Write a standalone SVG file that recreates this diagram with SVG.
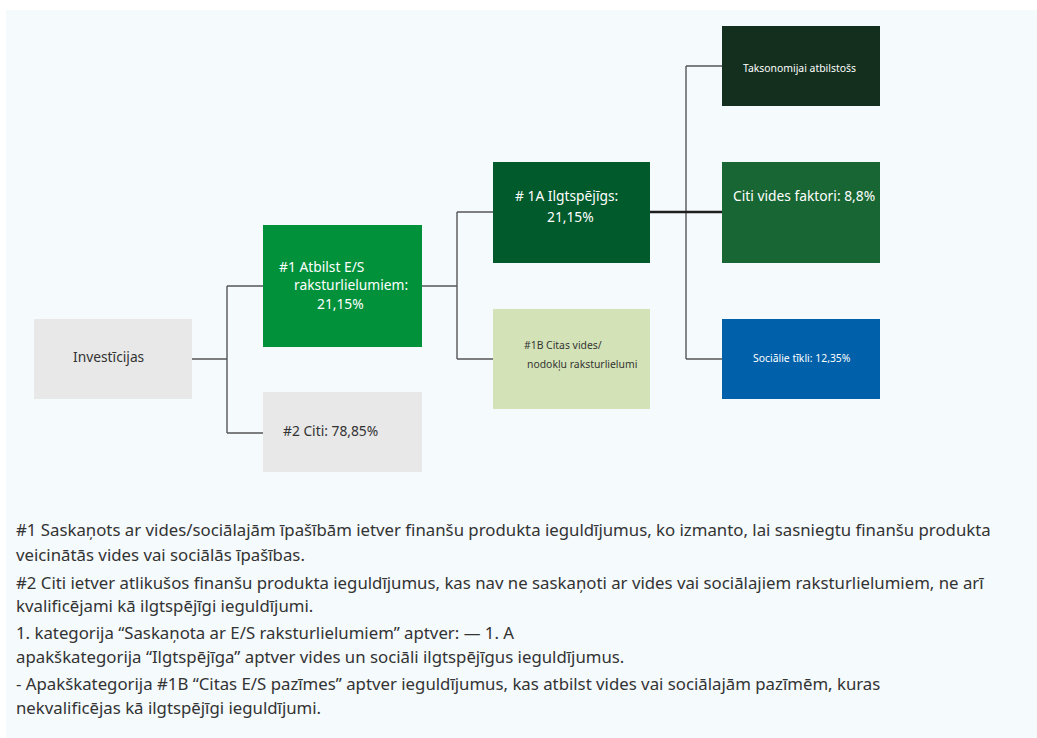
<svg xmlns="http://www.w3.org/2000/svg" width="1037" height="738" viewBox="0 0 1037 738">
<style>
text{font-family:"Noto Sans","Open Sans","DejaVu Sans",sans-serif;}
.w{fill:#ffffff;}
.d{fill:#333333;}
.c{fill:none;stroke:#555555;stroke-width:1.4;}
.ck{fill:none;stroke:#1e1e1e;stroke-width:2.6;}
.m{font-size:13.8px;}
.s{font-size:10.4px;}
.note{font-size:16.8px;fill:#333333;}
</style>
<rect x="0" y="0" width="1037" height="738" fill="#ffffff"/>
<rect x="6" y="10" width="1031" height="728" fill="#f5fafd"/>
<g id="connectors">
<path class="c" d="M192 359 H227 M227 286 V433 M227 286 H263 M227 433 H263"/>
<path class="c" d="M422 286 H457 M457 212 V359 M457 212 H493 M457 359 H493"/>
<path class="c" d="M686 66 V359 M686 66 H722 M686 359 H722"/>
<path class="ck" d="M650 212 H722"/>
</g>
<g id="investicijas">
<rect x="34" y="319" width="158" height="80" fill="#e8e8e8"/>
<text x="73" y="362" class="m d">Investīcijas</text>
</g>
<g id="n1">
<rect x="263" y="225" width="159" height="122" fill="#00913a"/>
<text x="279" y="271.5" class="m w">#1 Atbilst E/S</text>
<text x="294" y="289.5" class="m w">raksturlielumiem:</text>
<text x="317" y="309" class="m w">21,15%</text>
</g>
<g id="n2">
<rect x="263" y="392" width="159" height="80" fill="#e8e8e8"/>
<text x="283" y="436" class="m d">#2 Citi: 78,85%</text>
</g>
<g id="n1a">
<rect x="493" y="162" width="157" height="101" fill="#005a2c"/>
<text x="515" y="201" class="m w"># 1A Ilgtspējīgs:</text>
<text x="547" y="222" class="m w">21,15%</text>
</g>
<g id="n1b">
<rect x="493" y="309" width="157" height="100" fill="#d3e3b7"/>
<text x="524" y="349" class="s d">#1B Citas vides/</text>
<text x="527" y="368" class="s d">nodokļu raksturlielumi</text>
</g>
<g id="taks">
<rect x="722" y="26" width="158" height="80" fill="#142f1e"/>
<text x="743" y="72" class="s w">Taksonomijai atbilstošs</text>
</g>
<g id="citivides">
<rect x="722" y="162" width="158" height="101" fill="#176633"/>
<text x="733" y="201" class="m w">Citi vides faktori: 8,8%</text>
</g>
<g id="social">
<rect x="722" y="319" width="158" height="80" fill="#0061aa"/>
<text x="753" y="362" class="s w">Sociālie tīkli: 12,35%</text>
</g>
<g id="notes">
<text x="16" y="536" class="note">#1 Saskaņots ar vides/sociālajām īpašībām ietver finanšu produkta ieguldījumus, ko izmanto, lai sasniegtu finanšu produkta</text>
<text x="16" y="561" class="note">veicinātās vides vai sociālās īpašības.</text>
<text x="16" y="589" class="note">#2 Citi ietver atlikušos finanšu produkta ieguldījumus, kas nav ne saskaņoti ar vides vai sociālajiem raksturlielumiem, ne arī</text>
<text x="16" y="612" class="note">kvalificējami kā ilgtspējīgi ieguldījumi.</text>
<text x="16" y="639" class="note">1. kategorija “Saskaņota ar E/S raksturlielumiem” aptver: — 1. A</text>
<text x="16" y="663" class="note">apakškategorija “Ilgtspējīga” aptver vides un sociāli ilgtspējīgus ieguldījumus.</text>
<text x="16" y="690" class="note">- Apakškategorija #1B “Citas E/S pazīmes” aptver ieguldījumus, kas atbilst vides vai sociālajām pazīmēm, kuras</text>
<text x="16" y="714" class="note">nekvalificējas kā ilgtspējīgi ieguldījumi.</text>
</g>
</svg>
